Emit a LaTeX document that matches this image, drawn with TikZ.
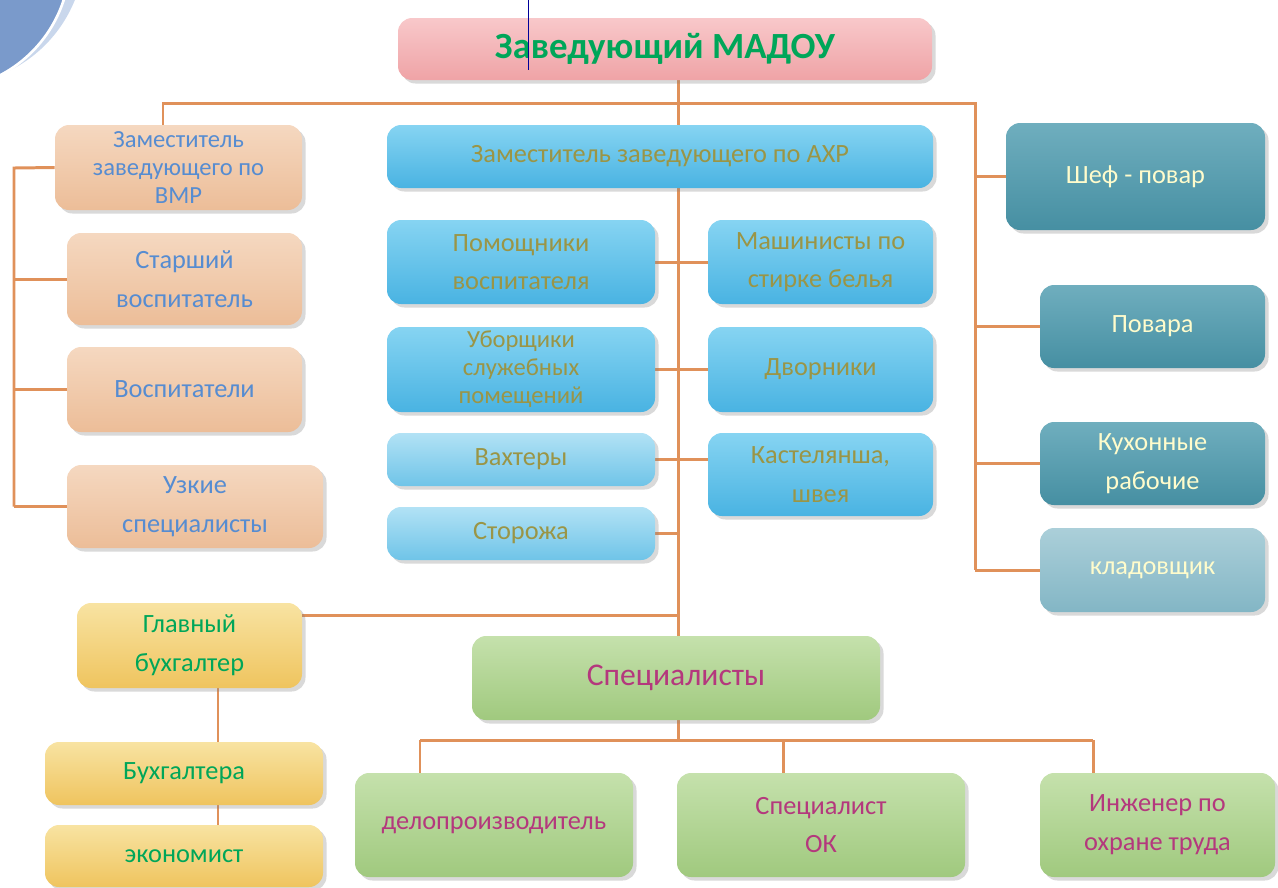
\documentclass[tikz,border=0pt]{standalone}
\usepackage{fontspec}
\setmainfont{Carlito}
\usetikzlibrary{shadows,backgrounds}
\definecolor{lnk}{HTML}{E0915A}
\definecolor{pinkT}{HTML}{F8C8CA}
\definecolor{pinkB}{HTML}{EFA3A6}
\definecolor{peachT}{HTML}{F5D8C0}
\definecolor{peachB}{HTML}{ECBD98}
\definecolor{blueT}{HTML}{86D4F2}
\definecolor{blueB}{HTML}{49B3E2}
\definecolor{paleT}{HTML}{B2E2F5}
\definecolor{paleB}{HTML}{6FC4E8}
\definecolor{tealT}{HTML}{6FAEBE}
\definecolor{tealB}{HTML}{468FA2}
\definecolor{greyT}{HTML}{ABCFD9}
\definecolor{greyB}{HTML}{83B6C5}
\definecolor{yelT}{HTML}{F8E3A2}
\definecolor{yelB}{HTML}{EFC45E}
\definecolor{grnT}{HTML}{C5E1AC}
\definecolor{grnB}{HTML}{A0C97E}
\definecolor{decoA}{HTML}{C9D7EC}
\definecolor{decoB}{HTML}{7A9ACB}
\tikzset{
  box/.style={rounded corners=8pt, align=center, inner sep=2pt,
    font=\fontsize{15}{22}\selectfont,
    drop shadow={opacity=0.3, shadow xshift=2pt, shadow yshift=-2pt}},
  wh/.style 2 args={minimum width=#1*0.02cm, minimum height=#2*0.02cm},
  pinkbox/.style={box, top color=pinkT, bottom color=pinkB, text=teal!70!green,
    font=\fontsize{21}{26}\selectfont\bfseries},
  peachbox/.style={box, top color=peachT, bottom color=peachB, text=cyan!50!blue!70},
  bluebox/.style={box, top color=blueT, bottom color=blueB, text=yellow!55!black},
  palebox/.style={box, top color=paleT, bottom color=paleB, text=yellow!55!black},
  tealbox/.style={box, top color=tealT, bottom color=tealB, text=yellow!20},
  greybox/.style={box, top color=greyT, bottom color=greyB, text=yellow!20},
  yelbox/.style={box, top color=yelT, bottom color=yelB, text=teal!70!green},
  grnbox/.style={box, top color=grnT, bottom color=grnB, text=magenta!70!black},
  tight/.style={font=\fontsize{14}{16}\selectfont},
  link/.style={draw=lnk, line width=1.7pt}
}
\begin{document}
\begin{tikzpicture}[x=0.02cm, y=-0.02cm]
  \useasboundingbox (0,0) rectangle (1278,887);
  \begin{scope}
    \clip (0,0) rectangle (1278,887);
    \fill[decoA] (-50,-50) circle [radius=2.69cm];
    \filldraw[fill=decoB, draw=white, line width=1.5pt] (-60,-40) circle [radius=2.6cm];
  \end{scope}

  \node (zav) [pinkbox, wh={534}{62}] at (665,49) {Заведующий МАДОУ};
  \node (vmr) [peachbox, tight, wh={247}{85}] at (178.5,167.5) {Заместитель\\заведующего по\\ВМР};
  \node (stv) [peachbox, wh={235}{92}] at (184.5,279) {Старший\\воспитатель};
  \node (vosp) [peachbox, wh={235}{85}] at (184.5,389.5) {Воспитатели};
  \node (usk) [peachbox, wh={256}{83}] at (195,506.5) {Узкие\\специалисты};
  \node (ahr) [bluebox, wh={546}{63}] at (660,156.5) {Заместитель заведующего по АХР};
  \node (pom) [bluebox, wh={268}{84}] at (521,262) {Помощники\\воспитателя};
  \node (mash) [bluebox, wh={225}{84}] at (820.5,262) {Машинисты по\\стирке белья};
  \node (ubor) [bluebox, tight, wh={268}{85}] at (521,369.5) {Уборщики\\служебных\\помещений};
  \node (dvor) [bluebox, wh={225}{85}] at (820.5,369.5) {Дворники};
  \node (vaht) [palebox, wh={268}{53}] at (521,459.5) {Вахтеры};
  \node (kast) [bluebox, wh={225}{83}] at (820.5,474.5) {Кастелянша,\\швея};
  \node (stor) [palebox, wh={268}{53}] at (521,533.5) {Сторожа};
  \node (chef) [tealbox, wh={259}{107}] at (1135.5,176.5) {Шеф - повар};
  \node (pov) [tealbox, wh={225}{83}] at (1152.5,326.5) {Повара};
  \node (kuh) [tealbox, wh={225}{83}] at (1152.5,463.5) {Кухонные\\рабочие};
  \node (klad) [greybox, wh={225}{84}] at (1152.5,570) {кладовщик};
  \node (glbuh) [yelbox, wh={225}{85}] at (189.5,645.5) {Главный\\бухгалтер};
  \node (bukh) [yelbox, wh={278}{63}] at (184,773.5) {Бухгалтера};
  \node (econ) [yelbox, wh={278}{62}] at (184,856) {экономист};
  \node (spec) [grnbox, wh={408}{84}, font=\fontsize{18}{22}\selectfont] at (676,678) {Специалисты};
  \node (delo) [grnbox, wh={278}{104}] at (494,825) {делопроизводитель};
  \node (ok) [grnbox, wh={288}{104}] at (821,825) {Специалист\\ОК};
  \node (ing) [grnbox, wh={235}{104}] at (1157.5,825) {Инженер по\\охране труда};
  \draw[blue!60!black, thin] (528,0) -- (528,70);

  \begin{scope}[on background layer]
    \coordinate (trunk) at (678,103);
    \coordinate (busL) at (163,103);
    \coordinate (busR) at (975,103);
    \coordinate (spine) at (14,168);
    \coordinate (bk) at (678,615);
    \coordinate (bx) at (218,688);
    \coordinate (busB) at (678,740);
    \coordinate (d1) at (420,740);
    \coordinate (d2) at (783,740);
    \coordinate (d3) at (1093,740);
    \draw[link] (trunk |- zav.south) -- (trunk |- spec.north);
    \draw[link] (busL |- vmr.north) -- (busL) -- (busR) -- (busR |- klad.west);
    \foreach \n in {chef,pov,kuh,klad} \draw[link] (busR |- \n.west) -- (\n.west);
    \draw[link] (vmr.west) -- (spine) -- (spine |- usk.west);
    \foreach \n in {stv,vosp,usk} \draw[link] (spine |- \n.west) -- (\n.west);
    \draw[link] (pom.east) -- (mash.west);
    \draw[link] (ubor.east) -- (dvor.west);
    \draw[link] (vaht.east) -- (vaht.east -| kast.west);
    \draw[link] (stor.east) -- (stor.east -| trunk);
    \draw[link] (bk) -- (bk -| glbuh.east);
    \draw[link] (glbuh.south -| bx) -- (econ.center -| bx);
    \draw[link] (spec.south -| busB) -- (busB);
    \draw[link] (d1) -- (d3);
    \foreach \c/\n in {d1/delo,d2/ok,d3/ing} \draw[link] (\c) -- (\c |- \n.north);
  \end{scope}
\end{tikzpicture}
\end{document}
